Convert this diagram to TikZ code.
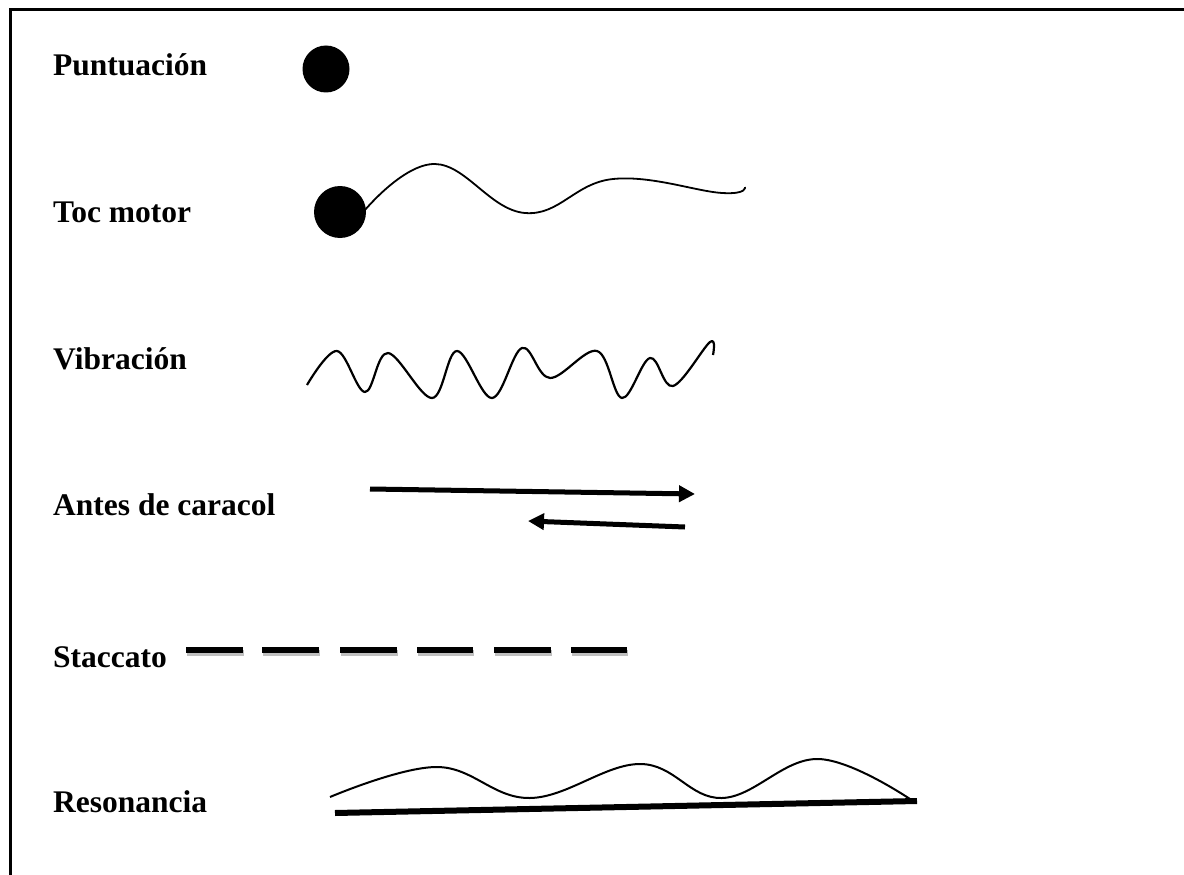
\documentclass[tikz,border=0pt]{standalone}
\usepackage{fontspec}
\setmainfont{Liberation Serif}
\usetikzlibrary{arrows.meta}
\begin{document}
\begin{tikzpicture}[x=1pt,y=-1pt,
  lbl/.style={anchor=base west,inner sep=0pt,font=\fontsize{31.5}{36}\selectfont\bfseries},
  dot/.style={circle,fill=black,inner sep=0pt},
  wave/.style={line width=2pt,line join=round},
  arr/.style={line width=5pt,-{Triangle[length=16pt,width=16pt]}},
  dashseg/.style={line width=6pt},
  dashshadow/.style={line width=6pt,black!25},
  frameline/.style={line width=3pt}]
\useasboundingbox (0,0) rectangle (1184,875);
\draw[frameline] (10,876) -- (10,10) -- (1185,10);

% labels
\node[lbl] (l1) at (53,76) {Puntuación};
\node[lbl] (l2) at (53,222) {Toc motor};
\node[lbl] (l3) at (53,369) {Vibración};
\node[lbl] (l4) at (53,515) {Antes de caracol};
\node[lbl] (l5) at (53,667) {Staccato};
\node[lbl] (l6) at (53,812) {Resonancia};

% Puntuacion
\node[dot,minimum size=47pt] (p1) at (326,69) {};

% Toc motor
\node[dot,minimum size=52pt] (tm) at (340,212) {};
\draw[wave,line width=1.8pt] plot[smooth,tension=0.7] coordinates
 {(365,210) (435,164) (525,213) (613,179) (722,193) (745,187)};

% Vibracion
\draw[wave,line width=2.2pt] plot[smooth,tension=0.6] coordinates
 {(307,385) (337,351) (365,392) (388,353) (432,398) (457,351) (492,398) (522,348) (550,378) (597,351) (622,398) (650,358) (673,386) (710,342) (713,355)};

% Antes de caracol
\coordinate (a1s) at (370,489);
\coordinate (a1e) at (695,494);
\coordinate (a2s) at (685,527);
\coordinate (a2e) at (528,521);
\draw[arr] (a1s) -- (a1e);
\draw[arr] (a2s) -- (a2e);

% Staccato
\foreach \a/\b [count=\i] in {186/243,262/319,340/397,417/473,494/551,571/627}{
  \coordinate (s\i a) at (\a,650);
  \coordinate (s\i b) at (\b,650);
  \draw[dashshadow] ([shift={(1,3)}]s\i a) -- ([shift={(1,3)}]s\i b);
  \draw[dashseg] (s\i a) -- (s\i b);
}

% Resonancia
\coordinate (r1) at (335,813);
\coordinate (r2) at (917,801);
\draw[line width=6pt] (r1) -- (r2);
\draw[wave] plot[smooth,tension=0.65] coordinates
 {(330,797) (437,767) (530,798) (640,764) (722,798) (818,759) (913,801)};
\end{tikzpicture}
\end{document}
